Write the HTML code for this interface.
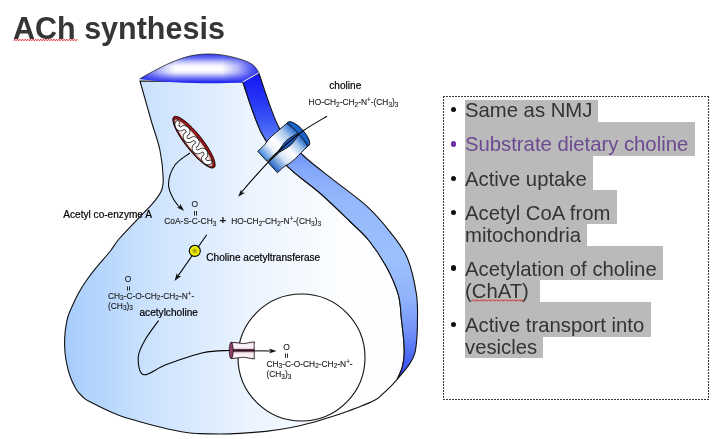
<!DOCTYPE html>
<html><head><meta charset="utf-8">
<style>
html,body{margin:0;padding:0;background:#fff;}
body{width:725px;height:439px;overflow:hidden;position:relative;font-family:"Liberation Sans",sans-serif;}
.gs{will-change:transform;}
.abs{position:absolute;white-space:nowrap;}
#title{left:13px;top:8px;font-size:30.5px;font-weight:bold;color:#363636;line-height:40px;}
#box{position:absolute;left:443px;top:96px;}
.hl{position:absolute;background:#bababa;left:465px;}
.li{position:absolute;left:465px;font-size:20.3px;color:#333;line-height:22px;white-space:nowrap;}
.bul{position:absolute;width:5.6px;height:5.6px;border-radius:50%;background:#111;left:450.5px;}
svg text{font-family:"Liberation Sans",sans-serif;fill:#1a1a1a;}
.lb{stroke:#000;stroke-width:0.2px;fill:#000;}
.f{stroke:#222;stroke-width:0.12px;}
.f{font-size:8.4px;}
.lb{font-size:10.1px;}
</style></head><body>
<svg class="abs gs" style="left:0;top:0" width="725" height="439" viewBox="0 0 725 439">
<defs>
<linearGradient id="gBody" x1="64" y1="0" x2="345" y2="0" gradientUnits="userSpaceOnUse">
<stop offset="0" stop-color="#a6ccfc"/><stop offset="0.3" stop-color="#cbe2fd"/><stop offset="0.65" stop-color="#eaf3fe"/><stop offset="1" stop-color="#fdfeff"/>
</linearGradient>
<linearGradient id="gBand" x1="0" y1="72" x2="0" y2="382" gradientUnits="userSpaceOnUse">
<stop offset="0.000" stop-color="#1515f5"/><stop offset="0.090" stop-color="#2535f5"/><stop offset="0.155" stop-color="#3a55f6"/><stop offset="0.203" stop-color="#5575f7"/><stop offset="0.252" stop-color="#6a8cf8"/><stop offset="0.316" stop-color="#84a8fa"/><stop offset="0.413" stop-color="#94b8fc"/><stop offset="0.606" stop-color="#9cc1fd"/><stop offset="0.735" stop-color="#8fb2fb"/><stop offset="0.832" stop-color="#7494f8"/><stop offset="0.913" stop-color="#4f6cf5"/><stop offset="1.000" stop-color="#2a3cf0"/>
</linearGradient>
<radialGradient id="gCap" cx="200" cy="70" r="62" gradientUnits="userSpaceOnUse" gradientTransform="translate(200 70) scale(1 0.3) translate(-200 -70)">
<stop offset="0" stop-color="#ffffff"/><stop offset="0.45" stop-color="#dfe3fd"/><stop offset="1" stop-color="#2e3cf0"/>
</radialGradient>
<linearGradient id="gSlabA" x1="0" y1="0" x2="40" y2="0" gradientUnits="userSpaceOnUse">
<stop offset="0" stop-color="#3f86dc"/><stop offset="0.3" stop-color="#eef4fc"/><stop offset="0.5" stop-color="#ffffff"/><stop offset="0.8" stop-color="#a9c8ee"/><stop offset="1" stop-color="#3f7fd4"/>
</linearGradient>
<linearGradient id="gSlabB" x1="0" y1="0" x2="40" y2="0" gradientUnits="userSpaceOnUse">
<stop offset="0" stop-color="#1f62c4"/><stop offset="0.35" stop-color="#d8e6f8"/><stop offset="0.6" stop-color="#ffffff"/><stop offset="0.85" stop-color="#a4c4ec"/><stop offset="1" stop-color="#3a7ad2"/>
</linearGradient>
<linearGradient id="gVt" x1="0" y1="0" x2="0" y2="1">
<stop offset="0" stop-color="#d8a8c0"/><stop offset="0.3" stop-color="#f8ecf2"/><stop offset="0.65" stop-color="#fdf8fa"/><stop offset="1" stop-color="#e0bccc"/>
</linearGradient>
<linearGradient id="gCapV" x1="0" y1="54" x2="0" y2="82" gradientUnits="userSpaceOnUse"><stop offset="0.000" stop-color="#3036ef"/><stop offset="0.143" stop-color="#6a70f3"/><stop offset="0.286" stop-color="#c4c7fa"/><stop offset="0.429" stop-color="#fafaff"/><stop offset="0.571" stop-color="#ffffff"/><stop offset="0.679" stop-color="#e4e5fd"/><stop offset="0.821" stop-color="#8a8ef5"/><stop offset="1.000" stop-color="#2228ee"/></linearGradient>
<linearGradient id="gCapH" x1="139" y1="0" x2="259" y2="0" gradientUnits="userSpaceOnUse"><stop offset="0.000" stop-color="#2a30ee" stop-opacity="1"/><stop offset="0.092" stop-color="#2a30ee" stop-opacity="0.6"/><stop offset="0.217" stop-color="#2a30ee" stop-opacity="0.2"/><stop offset="0.300" stop-color="#2a30ee" stop-opacity="0"/><stop offset="0.692" stop-color="#2a30ee" stop-opacity="0"/><stop offset="0.825" stop-color="#2a30ee" stop-opacity="0.35"/><stop offset="0.925" stop-color="#2a30ee" stop-opacity="0.75"/><stop offset="1.000" stop-color="#2a30ee" stop-opacity="1"/></linearGradient>
<radialGradient id="gMito" cx="0.5" cy="0.5" r="0.5"><stop offset="0" stop-color="#ffffff"/><stop offset="0.72" stop-color="#fdf2f2"/><stop offset="0.9" stop-color="#f2b6b6"/><stop offset="1" stop-color="#e08a8a"/></radialGradient>
<radialGradient id="gYel" cx="0.5" cy="0.5" r="0.5"><stop offset="0" stop-color="#8c8c00"/><stop offset="0.45" stop-color="#d8d800"/><stop offset="0.75" stop-color="#f4f400"/><stop offset="1" stop-color="#ffff10"/></radialGradient>
<linearGradient id="gVt2" x1="0" y1="0" x2="0" y2="1"><stop offset="0" stop-color="#c890b0"/><stop offset="0.3" stop-color="#f6e8ef"/><stop offset="0.65" stop-color="#fdf8fa"/><stop offset="1" stop-color="#e0bccc"/></linearGradient>
</defs>
<path d="M140,81 L242.7,81.8 C245.9,90.5 254.5,119.8 261.9,133.8 C269.3,147.8 277.0,155.8 286.9,165.8 C296.8,175.8 310.5,184.7 321.0,194.0 C331.5,203.3 342.1,213.8 350.0,221.5 C357.9,229.2 362.5,232.6 368.5,240.0 C374.5,247.4 381.0,256.9 386.0,266.0 C391.0,275.1 395.7,285.7 398.3,294.7 C400.9,303.7 400.6,312.4 401.5,320.0 C402.4,327.6 403.2,334.3 403.7,340.0 C404.1,345.7 404.4,349.4 404.2,354.0 C403.9,358.6 403.4,363.0 402.2,367.3 C401.0,371.6 397.9,377.6 397.0,379.6 C396.2,380.4 394.1,382.9 392.5,384.6 C390.9,386.3 390.0,387.2 387.3,389.6 C384.6,392.1 380.6,396.6 376.4,399.3 C372.2,402.0 366.8,403.8 362.0,405.8 C357.2,407.8 353.1,409.3 347.8,411.2 C342.5,413.1 336.1,415.3 330.0,417.2 C323.9,419.1 318.1,421.0 311.4,422.8 C304.7,424.6 297.6,426.4 290.0,427.8 C282.4,429.2 274.2,430.5 265.9,431.4 C257.6,432.3 247.6,433.0 240.0,433.4 C232.4,433.8 227.0,434.0 220.3,434.0 C213.6,434.0 205.1,433.8 200.0,433.6 C194.9,433.4 194.5,433.6 190.0,433.0 C185.5,432.4 180.3,431.6 172.8,430.0 C165.3,428.4 154.4,425.7 145.2,423.2 C136.0,420.7 126.8,418.4 117.6,414.8 C108.4,411.2 95.9,404.9 90.0,401.8 C84.1,398.8 84.6,398.6 82.3,396.5 C80.0,394.4 78.0,392.4 76.0,389.0 C74.0,385.6 71.7,380.8 70.0,376.0 C68.3,371.2 66.9,365.2 66.0,360.0 C65.1,354.8 64.7,349.8 64.6,345.0 C64.5,340.2 64.7,336.1 65.2,331.4 C65.7,326.7 66.6,321.3 67.8,317.0 C69.0,312.7 70.8,309.4 72.5,305.5 C74.2,301.6 75.9,297.9 78.2,293.7 C80.5,289.5 83.4,284.8 86.4,280.5 C89.4,276.2 92.0,272.7 96.0,267.8 C100.0,262.9 106.6,255.8 110.4,251.0 C114.2,246.2 114.6,244.2 119.0,239.0 C123.4,233.8 131.5,225.6 137.0,219.8 C142.5,214.0 147.9,209.0 152.0,204.2 C156.1,199.4 159.4,195.4 161.3,191.0 C163.2,186.6 163.4,184.8 163.2,178.0 C163.0,171.2 161.9,159.7 159.9,150.0 C157.9,140.3 154.3,131.5 151.0,120.0 C147.7,108.5 141.8,87.5 140.0,81.0 Z" fill="url(#gBody)" stroke="#111" stroke-width="1.1"/>
<path d="M242.7,81.8 L258.8,73 C262.2,82.1 271.6,113.8 279.0,127.6 C286.4,141.3 293.8,146.4 303.3,155.5 C312.8,164.6 325.3,173.4 336.0,181.9 C346.7,190.4 358.2,198.2 367.3,206.6 C376.4,215.0 383.9,224.0 390.6,232.6 C397.3,241.2 403.1,247.8 407.4,258.2 C411.7,268.6 414.8,283.6 416.5,294.7 C418.2,305.8 417.4,317.4 417.4,325.0 C417.4,332.6 417.1,335.2 416.7,340.0 C416.2,344.8 415.9,349.6 414.7,353.7 C413.4,357.8 412.1,360.3 409.2,364.6 C406.2,368.9 399.0,377.1 397.0,379.6 C397.9,377.6 401.0,371.6 402.2,367.3 C403.4,363.0 403.9,358.6 404.2,354.0 C404.4,349.4 404.1,345.7 403.7,340.0 C403.2,334.3 402.4,327.6 401.5,320.0 C400.6,312.4 400.9,303.7 398.3,294.7 C395.7,285.7 391.0,275.1 386.0,266.0 C381.0,256.9 374.5,247.4 368.5,240.0 C362.5,232.6 357.9,229.2 350.0,221.5 C342.1,213.8 331.5,203.3 321.0,194.0 C310.5,184.7 296.8,175.8 286.9,165.8 C277.0,155.8 269.3,147.8 261.9,133.8 C254.5,119.8 245.9,90.5 242.7,81.8 Z" fill="url(#gBand)" stroke="#111" stroke-width="1.1"/>
<path d="M139.5,79.0 C141.7,77.8 147.7,74.2 152.9,71.5 C158.1,68.8 164.9,65.1 170.9,62.6 C176.9,60.1 182.8,57.7 188.8,56.3 C194.8,54.9 200.7,54.1 206.7,54.0 C212.7,53.9 218.7,54.4 224.7,55.4 C230.7,56.4 237.8,58.3 242.6,59.9 C247.4,61.5 250.6,63.1 253.3,65.2 C256.0,67.3 257.9,71.3 258.8,72.5 L242.7,82.6 C210,84.2 170,83.2 139.5,79 Z" fill="url(#gCapV)"/><path d="M139.5,79.0 C141.7,77.8 147.7,74.2 152.9,71.5 C158.1,68.8 164.9,65.1 170.9,62.6 C176.9,60.1 182.8,57.7 188.8,56.3 C194.8,54.9 200.7,54.1 206.7,54.0 C212.7,53.9 218.7,54.4 224.7,55.4 C230.7,56.4 237.8,58.3 242.6,59.9 C247.4,61.5 250.6,63.1 253.3,65.2 C256.0,67.3 257.9,71.3 258.8,72.5 L242.7,82.6 C210,84.2 170,83.2 139.5,79 Z" fill="url(#gCapH)"/><path d="M139.5,79.0 C141.7,77.8 147.7,74.2 152.9,71.5 C158.1,68.8 164.9,65.1 170.9,62.6 C176.9,60.1 182.8,57.7 188.8,56.3 C194.8,54.9 200.7,54.1 206.7,54.0 C212.7,53.9 218.7,54.4 224.7,55.4 C230.7,56.4 237.8,58.3 242.6,59.9 C247.4,61.5 250.6,63.1 253.3,65.2 C256.0,67.3 257.9,71.3 258.8,72.5" fill="none" stroke="#222" stroke-width="0.8"/>
<line x1="242.7" y1="82" x2="258.8" y2="72.8" stroke="#eef" stroke-width="1"/>
<!-- vesicle -->
<circle cx="301.5" cy="357.5" r="63.5" fill="#fff" stroke="#111" stroke-width="1.1"/>

<!-- mitochondrion -->
<g transform="translate(194,142.2) rotate(51.5)">
<ellipse cx="0" cy="0" rx="32.4" ry="8.3" fill="#a01414" stroke="#1a0000" stroke-width="0.9"/>
<ellipse cx="0.2" cy="0.8" rx="30.2" ry="6.5" fill="url(#gMito)" stroke="#111" stroke-width="0.7"/>
<path d="M-25.50,0.70 L-25.37,1.42 L-25.25,1.63 L-25.12,1.79 L-24.99,1.92 L-24.86,2.03 L-24.73,2.13 L-24.61,2.23 L-24.48,2.32 L-24.35,2.40 L-24.23,2.48 L-24.10,2.55 L-23.97,2.62 L-23.84,2.68 L-23.71,2.75 L-23.59,2.81 L-23.46,2.86 L-23.33,2.91 L-23.20,2.96 L-23.08,3.01 L-22.95,3.06 L-22.82,3.10 L-22.70,3.14 L-22.57,3.17 L-22.44,3.20 L-22.31,3.24 L-22.18,3.26 L-22.06,3.29 L-21.93,3.31 L-21.80,3.33 L-21.68,3.34 L-21.55,3.35 L-21.42,3.36 L-21.29,3.37 L-21.16,3.37 L-21.04,3.37 L-20.91,3.37 L-20.78,3.36 L-20.66,3.35 L-20.53,3.33 L-20.40,3.31 L-20.27,3.28 L-20.14,3.25 L-20.02,3.22 L-19.89,3.18 L-19.76,3.13 L-19.63,3.08 L-19.51,3.02 L-19.38,2.96 L-19.25,2.88 L-19.12,2.80 L-19.00,2.70 L-18.87,2.58 L-18.74,2.45 L-18.62,2.28 L-18.49,2.07 L-18.36,1.75 L-18.23,0.14 L-18.11,-0.47 L-17.98,-0.76 L-17.85,-0.98 L-17.72,-1.15 L-17.59,-1.31 L-17.47,-1.44 L-17.34,-1.56 L-17.21,-1.67 L-17.09,-1.77 L-16.96,-1.86 L-16.83,-1.94 L-16.70,-2.02 L-16.57,-2.10 L-16.45,-2.16 L-16.32,-2.23 L-16.19,-2.29 L-16.06,-2.34 L-15.94,-2.39 L-15.81,-2.44 L-15.68,-2.48 L-15.55,-2.52 L-15.43,-2.55 L-15.30,-2.58 L-15.17,-2.61 L-15.04,-2.64 L-14.92,-2.66 L-14.79,-2.67 L-14.66,-2.68 L-14.54,-2.69 L-14.41,-2.70 L-14.28,-2.70 L-14.15,-2.70 L-14.03,-2.69 L-13.90,-2.68 L-13.77,-2.67 L-13.64,-2.65 L-13.52,-2.62 L-13.39,-2.60 L-13.26,-2.56 L-13.13,-2.53 L-13.01,-2.49 L-12.88,-2.44 L-12.75,-2.38 L-12.62,-2.33 L-12.49,-2.26 L-12.37,-2.19 L-12.24,-2.11 L-12.11,-2.02 L-11.98,-1.92 L-11.86,-1.80 L-11.73,-1.68 L-11.60,-1.53 L-11.47,-1.36 L-11.35,-1.15 L-11.22,-0.88 L-11.09,-0.47 L-10.96,1.54 L-10.84,2.13 L-10.71,2.46 L-10.58,2.70 L-10.46,2.89 L-10.33,3.06 L-10.20,3.21 L-10.07,3.34 L-9.95,3.46 L-9.82,3.57 L-9.69,3.66 L-9.56,3.76 L-9.43,3.84 L-9.31,3.92 L-9.18,3.99 L-9.05,4.05 L-8.93,4.11 L-8.80,4.17 L-8.67,4.22 L-8.54,4.26 L-8.41,4.30 L-8.29,4.34 L-8.16,4.37 L-8.03,4.40 L-7.91,4.42 L-7.78,4.44 L-7.65,4.46 L-7.52,4.47 L-7.39,4.48 L-7.27,4.48 L-7.14,4.48 L-7.01,4.47 L-6.89,4.46 L-6.76,4.45 L-6.63,4.43 L-6.50,4.41 L-6.38,4.38 L-6.25,4.35 L-6.12,4.31 L-5.99,4.27 L-5.86,4.22 L-5.74,4.17 L-5.61,4.12 L-5.48,4.05 L-5.36,3.98 L-5.23,3.90 L-5.10,3.82 L-4.97,3.73 L-4.84,3.62 L-4.72,3.51 L-4.59,3.38 L-4.46,3.24 L-4.34,3.08 L-4.21,2.89 L-4.08,2.65 L-3.95,2.35 L-3.82,1.87 L-3.70,-0.33 L-3.57,-0.88 L-3.44,-1.21 L-3.32,-1.46 L-3.19,-1.66 L-3.06,-1.83 L-2.93,-1.98 L-2.80,-2.11 L-2.68,-2.23 L-2.55,-2.34 L-2.42,-2.44 L-2.30,-2.53 L-2.17,-2.61 L-2.04,-2.69 L-1.91,-2.76 L-1.79,-2.82 L-1.66,-2.88 L-1.53,-2.93 L-1.40,-2.98 L-1.27,-3.02 L-1.15,-3.06 L-1.02,-3.09 L-0.89,-3.12 L-0.77,-3.15 L-0.64,-3.17 L-0.51,-3.18 L-0.38,-3.19 L-0.25,-3.20 L-0.13,-3.20 L0.00,-3.20 L0.13,-3.19 L0.25,-3.18 L0.38,-3.17 L0.51,-3.15 L0.64,-3.12 L0.77,-3.10 L0.89,-3.06 L1.02,-3.03 L1.15,-2.98 L1.27,-2.94 L1.40,-2.89 L1.53,-2.83 L1.66,-2.76 L1.79,-2.70 L1.91,-2.62 L2.04,-2.54 L2.17,-2.45 L2.30,-2.35 L2.42,-2.24 L2.55,-2.12 L2.68,-1.99 L2.80,-1.84 L2.93,-1.67 L3.06,-1.47 L3.19,-1.22 L3.32,-0.90 L3.44,-0.36 L3.57,1.84 L3.70,2.34 L3.82,2.65 L3.95,2.88 L4.08,3.07 L4.21,3.24 L4.34,3.38 L4.46,3.51 L4.59,3.62 L4.72,3.73 L4.84,3.82 L4.97,3.91 L5.10,3.98 L5.23,4.05 L5.36,4.12 L5.48,4.18 L5.61,4.23 L5.74,4.28 L5.86,4.32 L5.99,4.35 L6.12,4.39 L6.25,4.41 L6.38,4.44 L6.50,4.46 L6.63,4.47 L6.76,4.48 L6.88,4.49 L7.01,4.49 L7.14,4.48 L7.27,4.48 L7.40,4.47 L7.52,4.45 L7.65,4.43 L7.78,4.41 L7.91,4.38 L8.03,4.35 L8.16,4.31 L8.29,4.27 L8.41,4.23 L8.54,4.18 L8.67,4.12 L8.80,4.06 L8.92,4.00 L9.05,3.93 L9.18,3.85 L9.31,3.77 L9.44,3.68 L9.56,3.58 L9.69,3.47 L9.82,3.35 L9.95,3.22 L10.07,3.07 L10.20,2.91 L10.33,2.71 L10.45,2.47 L10.58,2.15 L10.71,1.58 L10.84,-0.45 L10.97,-0.88 L11.09,-1.15 L11.22,-1.36 L11.35,-1.53 L11.48,-1.68 L11.60,-1.81 L11.73,-1.92 L11.86,-2.02 L11.98,-2.12 L12.11,-2.20 L12.24,-2.27 L12.37,-2.34 L12.49,-2.40 L12.62,-2.45 L12.75,-2.50 L12.88,-2.54 L13.01,-2.58 L13.13,-2.61 L13.26,-2.64 L13.39,-2.66 L13.52,-2.68 L13.64,-2.70 L13.77,-2.71 L13.90,-2.71 L14.02,-2.72 L14.15,-2.72 L14.28,-2.71 L14.41,-2.70 L14.53,-2.69 L14.66,-2.67 L14.79,-2.66 L14.92,-2.63 L15.05,-2.60 L15.17,-2.57 L15.30,-2.54 L15.43,-2.50 L15.55,-2.46 L15.68,-2.41 L15.81,-2.36 L15.94,-2.31 L16.06,-2.25 L16.19,-2.19 L16.32,-2.12 L16.45,-2.04 L16.58,-1.96 L16.70,-1.88 L16.83,-1.79 L16.96,-1.69 L17.09,-1.58 L17.21,-1.46 L17.34,-1.33 L17.47,-1.18 L17.59,-1.00 L17.72,-0.78 L17.85,-0.49 L17.98,0.09 L18.10,1.74 L18.23,2.07 L18.36,2.29 L18.49,2.46 L18.62,2.60 L18.74,2.71 L18.87,2.81 L19.00,2.90 L19.12,2.98 L19.25,3.04 L19.38,3.10 L19.51,3.16 L19.63,3.20 L19.76,3.24 L19.89,3.28 L20.02,3.31 L20.15,3.34 L20.27,3.36 L20.40,3.37 L20.53,3.39 L20.66,3.40 L20.78,3.40 L20.91,3.40 L21.04,3.40 L21.16,3.40 L21.29,3.39 L21.42,3.38 L21.55,3.36 L21.67,3.35 L21.80,3.32 L21.93,3.30 L22.06,3.27 L22.19,3.24 L22.31,3.21 L22.44,3.18 L22.57,3.14 L22.70,3.10 L22.82,3.05 L22.95,3.00 L23.08,2.96 L23.20,2.90 L23.33,2.85 L23.46,2.79 L23.59,2.72 L23.72,2.66 L23.84,2.59 L23.97,2.52 L24.10,2.44 L24.23,2.36 L24.35,2.27 L24.48,2.17 L24.61,2.07 L24.73,1.95 L24.86,1.82 L24.99,1.66 L25.12,1.45 L25.24,0.94 L25.37,-0.01 L25.50,-0.20" fill="none" stroke="#111" stroke-width="4.6" stroke-linejoin="round" stroke-linecap="round"/>
<path d="M-25.50,0.70 L-25.37,1.42 L-25.25,1.63 L-25.12,1.79 L-24.99,1.92 L-24.86,2.03 L-24.73,2.13 L-24.61,2.23 L-24.48,2.32 L-24.35,2.40 L-24.23,2.48 L-24.10,2.55 L-23.97,2.62 L-23.84,2.68 L-23.71,2.75 L-23.59,2.81 L-23.46,2.86 L-23.33,2.91 L-23.20,2.96 L-23.08,3.01 L-22.95,3.06 L-22.82,3.10 L-22.70,3.14 L-22.57,3.17 L-22.44,3.20 L-22.31,3.24 L-22.18,3.26 L-22.06,3.29 L-21.93,3.31 L-21.80,3.33 L-21.68,3.34 L-21.55,3.35 L-21.42,3.36 L-21.29,3.37 L-21.16,3.37 L-21.04,3.37 L-20.91,3.37 L-20.78,3.36 L-20.66,3.35 L-20.53,3.33 L-20.40,3.31 L-20.27,3.28 L-20.14,3.25 L-20.02,3.22 L-19.89,3.18 L-19.76,3.13 L-19.63,3.08 L-19.51,3.02 L-19.38,2.96 L-19.25,2.88 L-19.12,2.80 L-19.00,2.70 L-18.87,2.58 L-18.74,2.45 L-18.62,2.28 L-18.49,2.07 L-18.36,1.75 L-18.23,0.14 L-18.11,-0.47 L-17.98,-0.76 L-17.85,-0.98 L-17.72,-1.15 L-17.59,-1.31 L-17.47,-1.44 L-17.34,-1.56 L-17.21,-1.67 L-17.09,-1.77 L-16.96,-1.86 L-16.83,-1.94 L-16.70,-2.02 L-16.57,-2.10 L-16.45,-2.16 L-16.32,-2.23 L-16.19,-2.29 L-16.06,-2.34 L-15.94,-2.39 L-15.81,-2.44 L-15.68,-2.48 L-15.55,-2.52 L-15.43,-2.55 L-15.30,-2.58 L-15.17,-2.61 L-15.04,-2.64 L-14.92,-2.66 L-14.79,-2.67 L-14.66,-2.68 L-14.54,-2.69 L-14.41,-2.70 L-14.28,-2.70 L-14.15,-2.70 L-14.03,-2.69 L-13.90,-2.68 L-13.77,-2.67 L-13.64,-2.65 L-13.52,-2.62 L-13.39,-2.60 L-13.26,-2.56 L-13.13,-2.53 L-13.01,-2.49 L-12.88,-2.44 L-12.75,-2.38 L-12.62,-2.33 L-12.49,-2.26 L-12.37,-2.19 L-12.24,-2.11 L-12.11,-2.02 L-11.98,-1.92 L-11.86,-1.80 L-11.73,-1.68 L-11.60,-1.53 L-11.47,-1.36 L-11.35,-1.15 L-11.22,-0.88 L-11.09,-0.47 L-10.96,1.54 L-10.84,2.13 L-10.71,2.46 L-10.58,2.70 L-10.46,2.89 L-10.33,3.06 L-10.20,3.21 L-10.07,3.34 L-9.95,3.46 L-9.82,3.57 L-9.69,3.66 L-9.56,3.76 L-9.43,3.84 L-9.31,3.92 L-9.18,3.99 L-9.05,4.05 L-8.93,4.11 L-8.80,4.17 L-8.67,4.22 L-8.54,4.26 L-8.41,4.30 L-8.29,4.34 L-8.16,4.37 L-8.03,4.40 L-7.91,4.42 L-7.78,4.44 L-7.65,4.46 L-7.52,4.47 L-7.39,4.48 L-7.27,4.48 L-7.14,4.48 L-7.01,4.47 L-6.89,4.46 L-6.76,4.45 L-6.63,4.43 L-6.50,4.41 L-6.38,4.38 L-6.25,4.35 L-6.12,4.31 L-5.99,4.27 L-5.86,4.22 L-5.74,4.17 L-5.61,4.12 L-5.48,4.05 L-5.36,3.98 L-5.23,3.90 L-5.10,3.82 L-4.97,3.73 L-4.84,3.62 L-4.72,3.51 L-4.59,3.38 L-4.46,3.24 L-4.34,3.08 L-4.21,2.89 L-4.08,2.65 L-3.95,2.35 L-3.82,1.87 L-3.70,-0.33 L-3.57,-0.88 L-3.44,-1.21 L-3.32,-1.46 L-3.19,-1.66 L-3.06,-1.83 L-2.93,-1.98 L-2.80,-2.11 L-2.68,-2.23 L-2.55,-2.34 L-2.42,-2.44 L-2.30,-2.53 L-2.17,-2.61 L-2.04,-2.69 L-1.91,-2.76 L-1.79,-2.82 L-1.66,-2.88 L-1.53,-2.93 L-1.40,-2.98 L-1.27,-3.02 L-1.15,-3.06 L-1.02,-3.09 L-0.89,-3.12 L-0.77,-3.15 L-0.64,-3.17 L-0.51,-3.18 L-0.38,-3.19 L-0.25,-3.20 L-0.13,-3.20 L0.00,-3.20 L0.13,-3.19 L0.25,-3.18 L0.38,-3.17 L0.51,-3.15 L0.64,-3.12 L0.77,-3.10 L0.89,-3.06 L1.02,-3.03 L1.15,-2.98 L1.27,-2.94 L1.40,-2.89 L1.53,-2.83 L1.66,-2.76 L1.79,-2.70 L1.91,-2.62 L2.04,-2.54 L2.17,-2.45 L2.30,-2.35 L2.42,-2.24 L2.55,-2.12 L2.68,-1.99 L2.80,-1.84 L2.93,-1.67 L3.06,-1.47 L3.19,-1.22 L3.32,-0.90 L3.44,-0.36 L3.57,1.84 L3.70,2.34 L3.82,2.65 L3.95,2.88 L4.08,3.07 L4.21,3.24 L4.34,3.38 L4.46,3.51 L4.59,3.62 L4.72,3.73 L4.84,3.82 L4.97,3.91 L5.10,3.98 L5.23,4.05 L5.36,4.12 L5.48,4.18 L5.61,4.23 L5.74,4.28 L5.86,4.32 L5.99,4.35 L6.12,4.39 L6.25,4.41 L6.38,4.44 L6.50,4.46 L6.63,4.47 L6.76,4.48 L6.88,4.49 L7.01,4.49 L7.14,4.48 L7.27,4.48 L7.40,4.47 L7.52,4.45 L7.65,4.43 L7.78,4.41 L7.91,4.38 L8.03,4.35 L8.16,4.31 L8.29,4.27 L8.41,4.23 L8.54,4.18 L8.67,4.12 L8.80,4.06 L8.92,4.00 L9.05,3.93 L9.18,3.85 L9.31,3.77 L9.44,3.68 L9.56,3.58 L9.69,3.47 L9.82,3.35 L9.95,3.22 L10.07,3.07 L10.20,2.91 L10.33,2.71 L10.45,2.47 L10.58,2.15 L10.71,1.58 L10.84,-0.45 L10.97,-0.88 L11.09,-1.15 L11.22,-1.36 L11.35,-1.53 L11.48,-1.68 L11.60,-1.81 L11.73,-1.92 L11.86,-2.02 L11.98,-2.12 L12.11,-2.20 L12.24,-2.27 L12.37,-2.34 L12.49,-2.40 L12.62,-2.45 L12.75,-2.50 L12.88,-2.54 L13.01,-2.58 L13.13,-2.61 L13.26,-2.64 L13.39,-2.66 L13.52,-2.68 L13.64,-2.70 L13.77,-2.71 L13.90,-2.71 L14.02,-2.72 L14.15,-2.72 L14.28,-2.71 L14.41,-2.70 L14.53,-2.69 L14.66,-2.67 L14.79,-2.66 L14.92,-2.63 L15.05,-2.60 L15.17,-2.57 L15.30,-2.54 L15.43,-2.50 L15.55,-2.46 L15.68,-2.41 L15.81,-2.36 L15.94,-2.31 L16.06,-2.25 L16.19,-2.19 L16.32,-2.12 L16.45,-2.04 L16.58,-1.96 L16.70,-1.88 L16.83,-1.79 L16.96,-1.69 L17.09,-1.58 L17.21,-1.46 L17.34,-1.33 L17.47,-1.18 L17.59,-1.00 L17.72,-0.78 L17.85,-0.49 L17.98,0.09 L18.10,1.74 L18.23,2.07 L18.36,2.29 L18.49,2.46 L18.62,2.60 L18.74,2.71 L18.87,2.81 L19.00,2.90 L19.12,2.98 L19.25,3.04 L19.38,3.10 L19.51,3.16 L19.63,3.20 L19.76,3.24 L19.89,3.28 L20.02,3.31 L20.15,3.34 L20.27,3.36 L20.40,3.37 L20.53,3.39 L20.66,3.40 L20.78,3.40 L20.91,3.40 L21.04,3.40 L21.16,3.40 L21.29,3.39 L21.42,3.38 L21.55,3.36 L21.67,3.35 L21.80,3.32 L21.93,3.30 L22.06,3.27 L22.19,3.24 L22.31,3.21 L22.44,3.18 L22.57,3.14 L22.70,3.10 L22.82,3.05 L22.95,3.00 L23.08,2.96 L23.20,2.90 L23.33,2.85 L23.46,2.79 L23.59,2.72 L23.72,2.66 L23.84,2.59 L23.97,2.52 L24.10,2.44 L24.23,2.36 L24.35,2.27 L24.48,2.17 L24.61,2.07 L24.73,1.95 L24.86,1.82 L24.99,1.66 L25.12,1.45 L25.24,0.94 L25.37,-0.01 L25.50,-0.20" fill="none" stroke="#fff" stroke-width="3.2" stroke-linejoin="round" stroke-linecap="round"/>
</g>

<!-- arrows -->
<g fill="none" stroke="#000" stroke-width="1.05">
<path d="M190.0,153.0 C187.5,155.0 178.6,159.8 175.0,165.0 C171.4,170.2 168.7,178.2 168.5,184.0 C168.3,189.8 171.6,195.8 174.0,200.0 C176.4,204.2 180.5,207.9 182,209"/>
<line x1="206.7" y1="234.7" x2="176.3" y2="278.4"/>
<path d="M158.6,320.6 C156.3,323.8 148.4,333.9 145.0,340.0 C141.6,346.1 138.4,351.6 138.2,357.4 C138.0,363.2 139.0,373.5 143.7,374.7 C148.4,375.9 156.5,368.2 166.4,364.6 C176.3,361.0 192.4,355.2 202.9,352.8 C213.4,350.4 222.3,350.8 229.3,350.5 C236.3,350.2 242.4,350.8 245.0,350.8 L272,351"/>
</g>
<g fill="#111">
<path d="M184.0,210.8 L176.7,207.6 L180.0,207.1 L180.3,203.8 Z"/>
<path d="M174.5,281.0 L176.9,272.9 L177.9,276.1 L181.2,275.9 Z"/>
<path d="M276.5,351.0 L269.0,353.6 L271.0,351.0 L269.0,348.4 Z"/>
</g>
<!-- yellow enzyme -->
<circle cx="194.8" cy="250.9" r="5.5" fill="url(#gYel)" stroke="#000" stroke-width="1.1"/>

<!-- channel -->
<g transform="translate(267.6,162) rotate(-42.5)">
<ellipse cx="41.5" cy="0" rx="6" ry="15.8" fill="#1a62c8" stroke="#111" stroke-width="0.9"/><line x1="41.5" y1="-15.8" x2="41.5" y2="15.8" stroke="#0a2a60" stroke-width="0.5"/>
<path d="M0,-0.8 L0,-14.6 C5,-14.6 9,-14.2 12,-15.2 C17,-17 28,-15.8 40,-15.6 C41.2,-12 41.8,-6 41.8,-0.8 C38,-0.9 34,-2.9 29,-3 C24,-3 19,-1.2 15,-0.8 Z" fill="url(#gSlabA)" stroke="#111" stroke-width="0.9"/>
<path d="M0,0.8 L0,14.6 C5,14.6 9,14.2 12,15.2 C17,17 28,15.8 40,15.6 C41.2,12 41.8,6 41.8,0.8 C38,0.9 34,2.9 29,3 C24,3 19,1.2 15,0.8 Z" fill="url(#gSlabB)" stroke="#111" stroke-width="0.9"/>
<path d="M15,0 C19,-1.2 24,-3 29,-3 C34,-2.9 38,-0.9 41.8,-0.8 L41.8,0.8 C38,0.9 34,2.9 29,3 C24,3 19,1.2 15,0 Z" fill="#1a5ec6" stroke="#111" stroke-width="0.6"/>
</g>
<g fill="none" stroke="#000" stroke-width="1.05">
<path d="M327.0,116.2 C323.1,118.6 310.6,125.6 303.6,130.5 C296.6,135.4 290.8,140.3 285.0,145.5 C279.2,150.7 276.4,153.2 268.7,161.7 C260.9,170.1 245,188 240.5,193.5"/>
</g>
<path fill="#111" d="M238.2,196.8 L241.0,189.4 L241.7,192.6 L245.0,192.7 Z"/>

<!-- vesicle transporter -->
<g stroke="#140810" stroke-width="0.8">
<path d="M231,342.3 C237,342.3 240,343.5 243.5,343.5 C247,343.5 250,341.9 254.4,341.9 C254,344.5 254,347 254.4,349.7 L231,349.7 Z" fill="url(#gVt)"/>
<path d="M231,358.5 C237,358.5 240,357.3 243.5,357.3 C247,357.3 250,358.9 254.4,358.9 C254,356.3 254,353.6 254.4,351.1 L231,351.1 Z" fill="url(#gVt2)"/>
<rect x="231" y="349.7" width="23.4" height="1.4" fill="#3a1020" stroke="none"/>
<ellipse cx="231.2" cy="350.4" rx="2" ry="8.1" fill="#8e4068" stroke-width="0.7"/>
</g>

<!-- labels -->
<text class="lb" x="329.3" y="88.7">choline</text>
<text class="f" x="308.6" y="105.3">HO-CH<tspan font-size="6.5" dy="1.4">2</tspan><tspan dy="-1.4">-CH</tspan><tspan font-size="6.5" dy="1.4">2</tspan><tspan dy="-1.4">-N</tspan><tspan font-size="6.3" dy="-3">+</tspan><tspan dy="3">-(CH</tspan><tspan font-size="6.5" dy="1.4">3</tspan><tspan dy="-1.4">)</tspan><tspan font-size="6.5" dy="1.4">3</tspan></text>
<text class="lb" x="63.3" y="217.9">Acetyl co-enzyme A</text>
<text class="f" x="194.7" y="207.2" text-anchor="middle">O</text>
<line x1="194.5" y1="211" x2="194.5" y2="215.6" stroke="#111" stroke-width="0.9"/><line x1="196.5" y1="211" x2="196.5" y2="215.6" stroke="#111" stroke-width="0.9"/>
<text class="f" x="164.3" y="224.3">CoA-S-C-CH<tspan font-size="6.5" dy="1.4">3</tspan><tspan dy="-1.4" font-size="11.5" font-weight="bold"> + </tspan></text>
<text class="f" x="231.2" y="224.3">HO-CH<tspan font-size="6.5" dy="1.4">2</tspan><tspan dy="-1.4">-CH</tspan><tspan font-size="6.5" dy="1.4">2</tspan><tspan dy="-1.4">-N</tspan><tspan font-size="6.3" dy="-3">+</tspan><tspan dy="3">-(CH</tspan><tspan font-size="6.5" dy="1.4">3</tspan><tspan dy="-1.4">)</tspan><tspan font-size="6.5" dy="1.4">3</tspan></text>
<text class="lb" x="206.3" y="260.7">Choline acetyltransferase</text>
<text class="f" x="128" y="281.8" text-anchor="middle">O</text>
<line x1="127.5" y1="286.4" x2="127.5" y2="290.5" stroke="#111" stroke-width="0.9"/><line x1="129.5" y1="286.4" x2="129.5" y2="290.5" stroke="#111" stroke-width="0.9"/>
<text class="f" x="108" y="298.8">CH<tspan font-size="6.5" dy="1.4">3</tspan><tspan dy="-1.4">-C-O-CH</tspan><tspan font-size="6.5" dy="1.4">2</tspan><tspan dy="-1.4">-CH</tspan><tspan font-size="6.5" dy="1.4">2</tspan><tspan dy="-1.4">-N</tspan><tspan font-size="6.3" dy="-3">+</tspan><tspan dy="3">-</tspan></text>
<text class="f" x="108" y="309">(CH<tspan font-size="6.5" dy="1.4">3</tspan><tspan dy="-1.4">)</tspan><tspan font-size="6.5" dy="1.4">3</tspan></text>
<text class="lb" x="139.5" y="315.5">acetylcholine</text>
<text class="f" x="286.4" y="349.7" text-anchor="middle">O</text>
<line x1="285.5" y1="353.5" x2="285.5" y2="357.8" stroke="#111" stroke-width="0.9"/><line x1="287.5" y1="353.5" x2="287.5" y2="357.8" stroke="#111" stroke-width="0.9"/>
<text class="f" x="266.4" y="367">CH<tspan font-size="6.5" dy="1.4">3</tspan><tspan dy="-1.4">-C-O-CH</tspan><tspan font-size="6.5" dy="1.4">2</tspan><tspan dy="-1.4">-CH</tspan><tspan font-size="6.5" dy="1.4">2</tspan><tspan dy="-1.4">-N</tspan><tspan font-size="6.3" dy="-3">+</tspan><tspan dy="3">-</tspan></text>
<text class="f" x="266.4" y="377.3">(CH<tspan font-size="6.5" dy="1.4">3</tspan><tspan dy="-1.4">)</tspan><tspan font-size="6.5" dy="1.4">3</tspan></text>

<!-- spell squiggles -->
<path d="M13.5,40.8 l1.30,-1.60 l1.30,1.60 l1.30,-1.60 l1.30,1.60 l1.30,-1.60 l1.30,1.60 l1.30,-1.60 l1.30,1.60 l1.30,-1.60 l1.30,1.60 l1.30,-1.60 l1.30,1.60 l1.30,-1.60 l1.30,1.60 l1.30,-1.60 l1.30,1.60 l1.30,-1.60 l1.30,1.60 l1.30,-1.60 l1.30,1.60 l1.30,-1.60 l1.30,1.60 l1.30,-1.60 l1.30,1.60 l1.30,-1.60 l1.30,1.60 l1.30,-1.60 l1.30,1.60 l1.30,-1.60 l1.30,1.60 l1.30,-1.60 l1.30,1.60 l1.30,-1.60 l1.30,1.60 l1.30,-1.60 l1.30,1.60 l1.30,-1.60 l1.30,1.60 l1.30,-1.60 l1.30,1.60 l1.30,-1.60 l1.30,1.60 l1.30,-1.60 l1.30,1.60 l1.30,-1.60 l1.30,1.60 l1.30,-1.60 l1.30,1.60 l1.30,-1.60" fill="none" stroke="#e82828" stroke-width="1"/>
</svg>
<div id="title" class="abs gs">ACh synthesis</div>
<svg id="box" width="267" height="305" viewBox="0 0 267 305"><g stroke="#3a3a3a" stroke-width="1.1" stroke-dasharray="2 1" fill="none"><path d="M0,0.5 H266"/><path d="M0,303.5 H266"/><path d="M0.5,0 V304"/><path d="M265.5,0 V304"/></g></svg>
<div class="hl" style="top:100px;height:22px;width:133.4px"></div>
<div class="hl" style="top:122px;height:34px;width:230px"></div>
<div class="hl" style="top:156px;height:34px;width:127.5px"></div>
<div class="hl" style="top:190px;height:33.5px;width:151.5px"></div>
<div class="hl" style="top:223.5px;height:22.3px;width:121.5px"></div>
<div class="hl" style="top:245.8px;height:34.6px;width:197.8px"></div>
<div class="hl" style="top:280.4px;height:22px;width:75.4px"></div>
<div class="hl" style="top:302.4px;height:34.2px;width:185.7px"></div>
<div class="hl" style="top:336.6px;height:21.6px;width:78px"></div>
<div class="bul" style="top:106.8px"></div>
<div class="bul" style="top:141.1px;background:#7030a0"></div>
<div class="bul" style="top:175.6px"></div>
<div class="bul" style="top:209.6px"></div>
<div class="bul" style="top:265.4px"></div>
<div class="bul" style="top:321.9px"></div>
<div class="li gs" style="top:99px">Same as NMJ</div>
<div class="li gs" style="top:133px;color:#6c4a92">Substrate dietary choline</div>
<div class="li gs" style="top:167.8px">Active uptake</div>
<div class="li gs" style="top:201.9px">Acetyl CoA from<br>mitochondria</div>
<div class="li gs" style="top:257.8px">Acetylation of choline<br>(ChAT)</div>
<div class="li gs" style="top:314.4px">Active transport into<br>vesicles</div>
<svg class="abs" style="left:0;top:0" width="725" height="439"><path d="M471.7,301.2 l1.30,-1.60 l1.30,1.60 l1.30,-1.60 l1.30,1.60 l1.30,-1.60 l1.30,1.60 l1.30,-1.60 l1.30,1.60 l1.30,-1.60 l1.30,1.60 l1.30,-1.60 l1.30,1.60 l1.30,-1.60 l1.30,1.60 l1.30,-1.60 l1.30,1.60 l1.30,-1.60 l1.30,1.60 l1.30,-1.60 l1.30,1.60 l1.30,-1.60 l1.30,1.60 l1.30,-1.60 l1.30,1.60 l1.30,-1.60 l1.30,1.60 l1.30,-1.60 l1.30,1.60 l1.30,-1.60 l1.30,1.60 l1.30,-1.60 l1.30,1.60 l1.30,-1.60 l1.30,1.60 l1.30,-1.60 l1.30,1.60 l1.30,-1.60 l1.30,1.60 l1.30,-1.60 l1.30,1.60" fill="none" stroke="#d83030" stroke-width="0.9"/></svg>
</body></html>
